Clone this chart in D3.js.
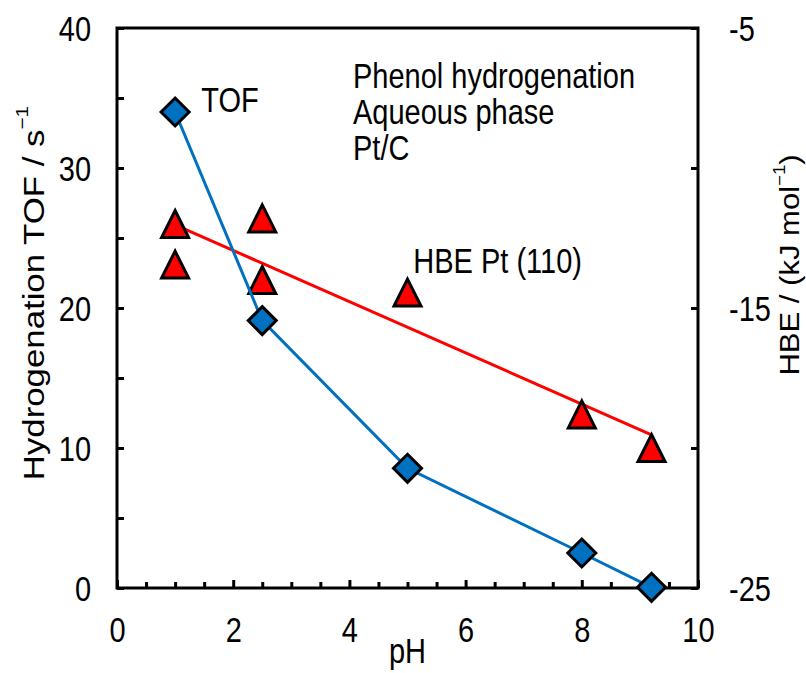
<!DOCTYPE html>
<html>
<head>
<meta charset="utf-8">
<script src="https://cdn.jsdelivr.net/npm/d3@7"></script>
<style>
  html, body { margin: 0; padding: 0; background: #fff; }
  svg { display: block; font-family: "Liberation Sans", Arial, sans-serif; }
</style>
</head>
<body>
<svg id="chart" width="806" height="673"></svg>
<script>
// ---- data ----
const phTOF = [1, 2.5, 5, 8, 9.2];
const tofValues = [34.0, 19.1, 8.55, 2.5, 0.05];

const phHBE = [1, 1, 2.5, 2.5, 5, 8, 9.2];
const hbeValues = [-12.0, -13.45, -11.8, -14.0, -14.45, -18.8, -20.0];

const fitPH = [1, 9.2];
const fitHBE = [-12.03, -19.53];

const xTicksMajor = [0, 2, 4, 6, 8, 10];
const xTicksMinor = [0.5, 1, 1.5, 2.5, 3, 3.5, 4.5, 5, 5.5, 6.5, 7, 7.5, 8.5, 9, 9.5];
const yLeftTicks = [0, 10, 20, 30, 40];
const yLeftMinor = [5, 15, 25, 35];
const yRightTicks = [-25, -15, -5];
const yRightMinor = [-20, -10];

const annotations = [
  {text: "TOF", x: 1.45, y: 34.9},
  {text: "HBE Pt (110)", x: 5.1, y: 23.4},
];
const infoLines = ["Phenol hydrogenation", "Aqueous phase", "Pt/C"];

// ---- layout ----
const L = 117, R = 698, T = 28, B = 588;
const FS = 29, K = 1.2;   // font size, vertical stretch of glyphs
const svg = d3.select("#chart");
const x = d3.scaleLinear().domain([0, 10]).range([L, R]);
const yL = d3.scaleLinear().domain([0, 40]).range([B, T]);
const yR = d3.scaleLinear().domain([-25, -5]).range([B, T]);

// frame
svg.append("rect").attr("x", L).attr("y", T).attr("width", R - L).attr("height", B - T)
  .attr("fill", "none").attr("stroke", "#000").attr("stroke-width", 3);

function styleAxis(g) {
  g.select(".domain").remove();
  g.selectAll(".tick line").attr("stroke", "#000").attr("stroke-width", 3);
  g.selectAll(".tick text").attr("font-size", FS).attr("fill", "#000")
    .attr("font-family", "Liberation Sans, Arial, sans-serif");
}
const fmt = d => String(d);

// bottom axis
const bx = svg.append("g").attr("transform", `translate(0,${B})`)
  .call(d3.axisBottom(x).tickValues(xTicksMajor).tickFormat(fmt).tickSizeInner(-8).tickSizeOuter(0))
  .call(styleAxis);
bx.selectAll(".tick text").attr("y", 0).attr("dy", "0.35em")
  .attr("transform", `translate(0,42) scale(1,${K})`);
svg.append("g").attr("transform", `translate(0,${B})`)
  .call(d3.axisBottom(x).tickValues(xTicksMinor).tickFormat("").tickSizeInner(-6).tickSizeOuter(0))
  .call(styleAxis);

// left axis
const ly = svg.append("g").attr("transform", `translate(${L},0)`)
  .call(d3.axisLeft(yL).tickValues(yLeftTicks).tickFormat(fmt).tickSizeInner(-7).tickSizeOuter(0).tickPadding(26))
  .call(styleAxis);
ly.selectAll(".tick text").attr("dy", "0.35em").attr("transform", `scale(1,${K})`);
svg.append("g").attr("transform", `translate(${L},0)`)
  .call(d3.axisLeft(yL).tickValues(yLeftMinor).tickFormat("").tickSizeInner(-7).tickSizeOuter(0))
  .call(styleAxis);

// right axis
const ry = svg.append("g").attr("transform", `translate(${R},0)`)
  .call(d3.axisRight(yR).tickValues(yRightTicks).tickFormat(fmt).tickSizeInner(-7).tickSizeOuter(0).tickPadding(31))
  .call(styleAxis);
ry.selectAll(".tick text").attr("dy", "0.35em").attr("transform", `scale(1,${K})`);
svg.append("g").attr("transform", `translate(${R},0)`)
  .call(d3.axisRight(yR).tickValues(yRightMinor).tickFormat("").tickSizeInner(-7).tickSizeOuter(0))
  .call(styleAxis);

// axis titles
svg.append("text").attr("transform", `translate(${(L + R) / 2},651) scale(1,${K})`)
  .attr("dy", "0.35em").attr("text-anchor", "middle").attr("font-size", FS).text("pH");

const lt = svg.append("text").attr("transform", `translate(34,293) scale(1,${K}) rotate(-90)`)
  .attr("text-anchor", "middle").attr("dy", "0.35em").attr("font-size", FS);
lt.append("tspan").text("Hydrogenation TOF / s");
lt.append("tspan").attr("font-size", FS * 0.6).attr("dy", "-0.9em").text("−1");

const FSR = 27, KR = 1.15;
const rt = svg.append("text").attr("transform", `translate(790,265) scale(1,${KR}) rotate(-90)`)
  .attr("text-anchor", "middle").attr("dy", "0.35em").attr("font-size", FSR);
rt.append("tspan").text("HBE / (kJ mol");
rt.append("tspan").attr("font-size", FSR * 0.6).attr("dy", "-0.9em").text("−1");
rt.append("tspan").attr("dy", "0.54em").text(")");

// red fit line
const fitData = fitPH.map((p, i) => [p, fitHBE[i]]);
svg.append("path").datum(fitData)
  .attr("d", d3.line().x(d => x(d[0])).y(d => yR(d[1])))
  .attr("fill", "none").attr("stroke", "#ff0000").attr("stroke-width", 3);

// triangles
const triData = phHBE.map((p, i) => [p, hbeValues[i]]);
const triSize = 13.5;
svg.append("g").selectAll("path").data(triData).join("path")
  .attr("d", d => {
    const cx = x(d[0]), cy = yR(d[1]);
    return `M${cx},${cy - triSize} L${cx + triSize},${cy + triSize} L${cx - triSize},${cy + triSize} Z`;
  })
  .attr("fill", "#ff0000").attr("stroke", "#000").attr("stroke-width", 3);

// blue TOF line
const tofData = phTOF.map((p, i) => [p, tofValues[i]]);
svg.append("path").datum(tofData)
  .attr("d", d3.line().x(d => x(d[0])).y(d => yL(d[1])))
  .attr("fill", "none").attr("stroke", "#0070c0").attr("stroke-width", 3);

// diamonds
const dz = 14;
svg.append("g").selectAll("path").data(tofData).join("path")
  .attr("d", d => {
    const cx = x(d[0]), cy = yL(d[1]);
    return `M${cx},${cy - dz} L${cx + dz},${cy} L${cx},${cy + dz} L${cx - dz},${cy} Z`;
  })
  .attr("fill", "#0070c0").attr("stroke", "#000").attr("stroke-width", 3);

// annotations
annotations.forEach(a => {
  svg.append("text").attr("transform", `translate(${x(a.x)},${yL(a.y)}) scale(1,${K})`)
    .attr("dy", "0.35em").attr("font-size", FS).text(a.text);
});
infoLines.forEach((t, i) => {
  svg.append("text").attr("transform", `translate(353,${76 + i * 36}) scale(1,${K})`)
    .attr("dy", "0.35em").attr("font-size", FS).text(t);
});
</script>
</body>
</html>
